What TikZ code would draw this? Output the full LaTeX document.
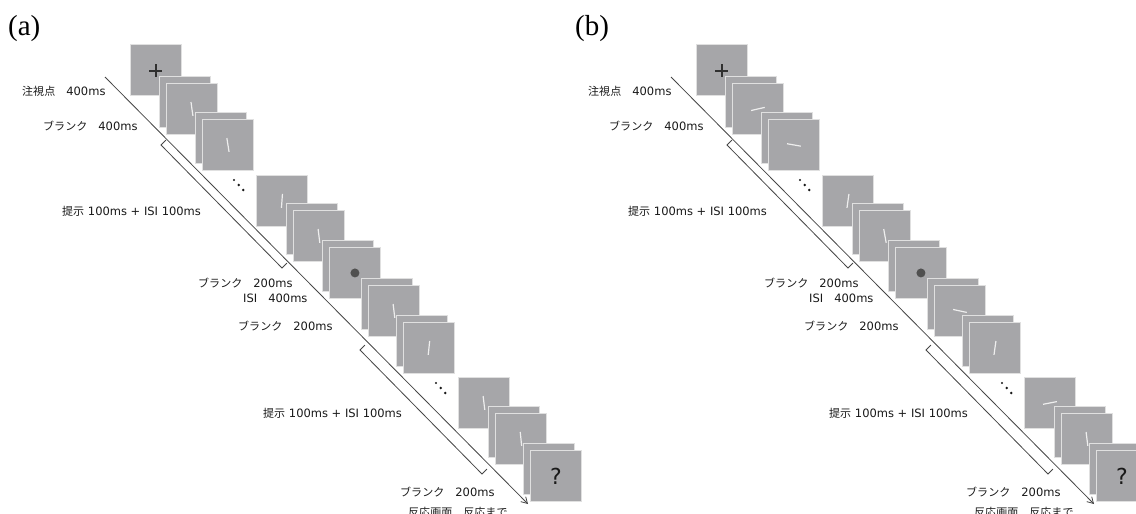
\documentclass[tikz,border=0pt]{standalone}
\usepackage{fontspec}
\setmainfont{DejaVu Sans}
\newfontfamily\jp{Noto Sans CJK JP}[Scale=0.96]
\newfontfamily\panelserif{Liberation Serif}
\usetikzlibrary{calc,arrows.meta}

\definecolor{scrfill}{RGB}{166,166,169}
\definecolor{scredge}{RGB}{224,224,224}
\definecolor{ink}{RGB}{25,25,25}
\definecolor{linecol}{RGB}{70,70,70}
\definecolor{stimcol}{RGB}{238,238,238}
\definecolor{dotcol}{RGB}{80,80,80}

\tikzset{
  scr/.style={anchor=north west, minimum size=51pt, inner sep=0pt, draw=scredge, fill=scrfill, line width=0.9pt},
  tl/.style={draw=linecol, line width=0.8pt},
  stim/.style={draw=stimcol, line width=1.2pt},
  crossline/.style={draw=ink!90, line width=1.3pt},
  lab/.style={anchor=west, inner sep=0pt, text=ink, font=\fontsize{11.5}{13}\selectfont},
  qmark/.style={inner sep=0pt, text=ink, font=\fontsize{22}{22}\selectfont},
  plabel/.style={anchor=base west, inner sep=0pt, text=black, font=\panelserif\fontsize{29}{30}\selectfont},
}

\newcommand\stimline[3]{\draw[stim] ($(#1.center)+(#2,#3)$) -- ($(#1.center)-(#2,#3)$);}

\newcommand\panelbase[1]{%
  % time line
  \coordinate (#1S) at (105,77);
  \coordinate (#1E) at (528,504);
  \draw[tl,-{Straight Barb[length=6pt,width=7pt]}] (#1S) -- (#1E);
  % brackets
  \coordinate (#1C1) at (161,145);
  \coordinate (#1C2) at (282,268);
  \coordinate (#1C3) at (360,350);
  \coordinate (#1C4) at (482,474);
  \coordinate (#1P1) at ($(#1S)!(#1C1)!(#1E)$);
  \coordinate (#1P2) at ($(#1S)!(#1C2)!(#1E)$);
  \coordinate (#1P3) at ($(#1S)!(#1C3)!(#1E)$);
  \coordinate (#1P4) at ($(#1S)!(#1C4)!(#1E)$);
  \draw[tl] ($(#1C1)!7pt!(#1P1)$) -- (#1C1) -- (#1C2) -- ($(#1C2)!7pt!(#1P2)$);
  \draw[tl] ($(#1C3)!7pt!(#1P3)$) -- (#1C3) -- (#1C4) -- ($(#1C4)!7pt!(#1P4)$);
  % screens
  \node[scr] (#1q1) at (130,44) {};
  \node[scr] (#1q2b) at (159,76) {};
  \node[scr] (#1q2) at (166,83) {};
  \node[scr] (#1q3b) at (195,112) {};
  \node[scr] (#1q3) at (202,119) {};
  \node[scr] (#1q4) at (256,175) {};
  \node[scr] (#1q5b) at (286,203) {};
  \node[scr] (#1q5) at (293,210) {};
  \node[scr] (#1q6b) at (322,240) {};
  \node[scr] (#1q6) at (329,247) {};
  \node[scr] (#1q7b) at (361,278) {};
  \node[scr] (#1q7) at (368,285) {};
  \node[scr] (#1q8b) at (396,315) {};
  \node[scr] (#1q8) at (403,322) {};
  \node[scr] (#1q9) at (458,377) {};
  \node[scr] (#1q10b) at (488,406) {};
  \node[scr] (#1q10) at (495,413) {};
  \node[scr] (#1q11b) at (523,443) {};
  \node[scr] (#1q11) at (530,450) {};
  % fixation cross, probe dot, question mark
  \draw[crossline] ($(#1q1.center)+(-6.5,1)$) -- ($(#1q1.center)+(6.5,1)$);
  \draw[crossline] ($(#1q1.center)+(0,-5.5)$) -- ($(#1q1.center)+(0,7.5)$);
  \fill[dotcol] (#1q6.center) circle (4.5pt);
  \node[qmark] (#1qm) at (#1q11.center) {?};
  % ellipsis dots
  \fill[ink] (234,180) circle (1.2pt);
  \fill[ink] (238.7,185) circle (1.3pt);
  \fill[ink] (243.3,190) circle (1.4pt);
  \fill[ink] (436,383) circle (1.2pt);
  \fill[ink] (440.7,388) circle (1.3pt);
  \fill[ink] (445.3,393) circle (1.4pt);
  % labels
  \node[lab] (#1L1) at (22,91) {{\jp 注視点　}400ms};
  \node[lab] (#1L2) at (43,126) {{\jp ブランク　}400ms};
  \node[lab] (#1L3) at (62,211) {{\jp 提示} 100ms + ISI 100ms};
  \node[lab] (#1L4) at (198,283) {{\jp ブランク　}200ms};
  \node[lab] (#1L5) at (243,298) {ISI{\jp 　}400ms};
  \node[lab] (#1L6) at (238,326) {{\jp ブランク　}200ms};
  \node[lab] (#1L7) at (263,413) {{\jp 提示} 100ms + ISI 100ms};
  \node[lab] (#1L8) at (400,492) {{\jp ブランク　}200ms};
  \node[lab] (#1L9) at (408,512.5) {{\jp 反応画面　反応まで}};
}

\begin{document}
\begin{tikzpicture}[x=1pt,y=-1pt]
  \useasboundingbox (0,0) rectangle (1136,514);
  \fill[white] (0,0) rectangle (1136,514);

  % ---------- panel (a) ----------
  \node[plabel] (la) at (8,35) {(a)};
  \panelbase{a}
  \stimline{aq2}{0.97}{6.93}
  \stimline{aq3}{1.1}{6.9}
  \stimline{aq4}{-0.5}{6.98}
  \stimline{aq5}{0.85}{6.95}
  \stimline{aq7}{0.85}{6.95}
  \stimline{aq8}{-0.73}{6.96}
  \stimline{aq9}{0.85}{6.95}
  \stimline{aq10}{0.73}{6.96}

  % ---------- panel (b) ----------
  \node[plabel] (lb) at (575,35) {(b)};
  \begin{scope}[xshift=566pt]
    \panelbase{b}
  \end{scope}
  \stimline{bq2}{6.82}{-1.57}
  \stimline{bq3}{6.89}{1.22}
  \stimline{bq4}{-0.97}{6.93}
  \stimline{bq5}{1.22}{6.89}
  \stimline{bq7}{6.85}{1.46}
  \stimline{bq8}{-0.97}{6.93}
  \stimline{bq9}{6.87}{-1.34}
  \stimline{bq10}{0.85}{6.95}
\end{tikzpicture}
\end{document}
